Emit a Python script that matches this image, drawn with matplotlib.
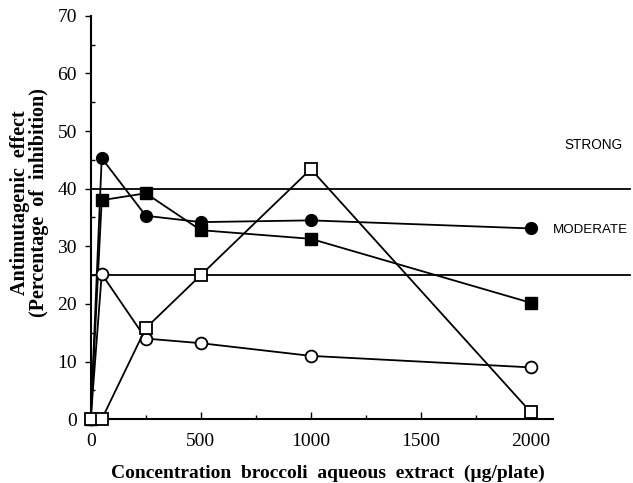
import matplotlib
matplotlib.use("Agg")
import matplotlib.pyplot as plt
from matplotlib.ticker import MultipleLocator

# concentrations (ug/plate)
conc = [0, 50, 250, 500, 1000, 2000]

# antimutagenic effect (% inhibition) per series
filled_circle = [0, 45.3, 35.3, 34.2, 34.5, 33.1]
filled_square = [0, 38.0, 39.2, 32.8, 31.3, 20.2]
open_circle = [0, 25.2, 14.0, 13.2, 11.0, 9.0]
open_square = [0, 0, 15.8, 25.0, 43.4, 1.2]

# thresholds between weak / moderate / strong
thresholds = [40, 25]

plt.rcParams['font.family'] = ['Liberation Serif', 'DejaVu Serif']

fig = plt.figure(figsize=(6.33, 4.83), dpi=100)
ax = fig.add_axes([0.1433, 0.1319, 0.7303, 0.8356])

lw = 1.3
ms = 8.5
ax.plot(conc, filled_circle, color='black', lw=lw, marker='o', ms=ms,
        mfc='black', mec='black', clip_on=False, zorder=3)
ax.plot(conc, filled_square, color='black', lw=lw, marker='s', ms=ms,
        mfc='black', mec='black', clip_on=False, zorder=3)
ax.plot(conc, open_circle, color='black', lw=lw, marker='o', ms=ms,
        mfc='white', mec='black', mew=1.3, clip_on=False, zorder=4)
ax.plot(conc, open_square, color='black', lw=lw, marker='s', ms=ms,
        mfc='white', mec='black', mew=1.3, clip_on=False, zorder=5)

for t in thresholds:
    ax.axhline(t, xmin=0, xmax=1.166, color='black', lw=1.3, clip_on=False, zorder=2)

sans = ['Liberation Sans', 'DejaVu Sans']
ax.text(2283, 47.6, 'STRONG', family=sans, fontsize=9.8,
        ha='center', va='center')
ax.text(2100, 32.8, 'MODERATE', family=sans, fontsize=9.6,
        ha='left', va='center')

ax.set_xlim(0, 2100)
ax.set_ylim(0, 70)
ax.spines['top'].set_visible(False)
ax.spines['right'].set_visible(False)
ax.spines['left'].set_linewidth(1.5)
ax.spines['bottom'].set_linewidth(1.5)

ax.xaxis.set_major_locator(MultipleLocator(500))
ax.xaxis.set_minor_locator(MultipleLocator(250))
ax.yaxis.set_major_locator(MultipleLocator(10))
ax.yaxis.set_minor_locator(MultipleLocator(5))
ax.tick_params(which='both', labelsize=14, width=1)
ax.tick_params(axis='x', which='both', direction='in', pad=10)
ax.tick_params(axis='x', which='major', length=5)
ax.tick_params(axis='x', which='minor', length=3)
ax.tick_params(axis='y', which='major', direction='out', length=4, pad=6)
ax.tick_params(axis='y', which='minor', direction='in', length=3)

ax.set_xlabel('Concentration  broccoli  aqueous  extract  (\u00b5g/plate)',
              fontsize=14, fontweight='bold')
ax.xaxis.set_label_coords(0.513, -0.113)
ax.set_ylabel('Antimutagenic  effect\n(Percentage  of  inhibition)',
              fontsize=14.5, fontweight='bold', linespacing=0.92)
ax.yaxis.set_label_coords(-0.091, 0.538)

fig.savefig('out.png', dpi=100)
